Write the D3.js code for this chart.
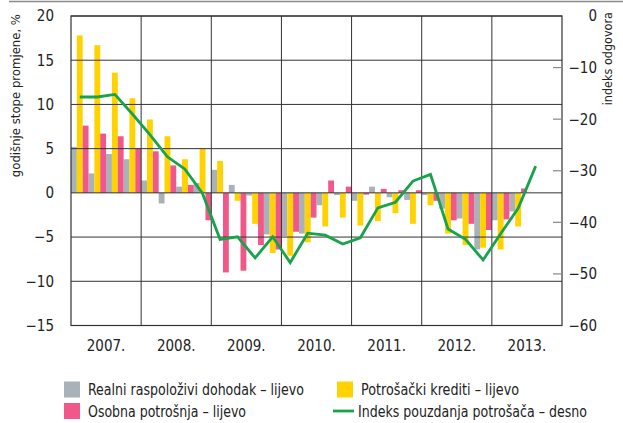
<!DOCTYPE html>
<html>
<head>
<meta charset="utf-8">
<script src="https://cdn.jsdelivr.net/npm/d3@7"></script>
<style>
  body { margin: 0; background: #fff; }
  svg text { font-family: "Liberation Sans Narrow", "DejaVu Sans Condensed", "Liberation Sans", sans-serif; fill: #222; }
</style>
</head>
<body>
<div id="chart"></div>
<script>
var years = ["2007.", "2008.", "2009.", "2010.", "2011.", "2012.", "2013."];
var quarters = years.flatMap(function(y) { return ["Q1", "Q2", "Q3", "Q4"].map(function(q) { return y + q; }); });

// realni raspolozivi dohodak, 2007Q1 - 2013Q2
var dohodak = [5.2, 2.2, 4.4, 3.8, 1.4, -1.2, 0.7, 1.1, 2.6, 0.9, -0.3, -4.7, -4.9,
  -4.6, -1.4, -0.25, -0.9, 0.7, -0.5, -0.8, -0.25, -1.8, -2.9, -6.4, -3.1, -2.1];
// potrosacki krediti
var krediti = [17.8, 16.7, 13.6, 10.7, 8.3, 6.4, 3.8, 5.0, 3.6, -0.9, -3.5, -6.8, -7.1,
  -5.6, -3.8, -2.8, -3.7, -3.2, -2.3, -3.5, -1.4, -4.6, -5.9, -6.2, -6.4, -3.8];
// osobna potrosnja
var potrosnja = [7.6, 6.7, 6.4, 5.0, 4.7, 3.1, 0.9, -3.1, -9.0, -8.8, -5.9, -6.4, -4.4,
  -2.8, 1.4, 0.7, -0.2, 0.45, 0.3, 0.3, -0.9, -3.1, -3.5, -4.2, -3.0, 0.5];
// indeks pouzdanja potrosaca (desna os), 2007Q1 - 2013Q3
var indeks = [-15.7, -15.7, -15.2, -19.0, -23.0, -27.3, -29.7, -34.4, -43.3, -42.8, -46.9, -42.8, -47.8,
  -42.1, -42.5, -44.2, -43.0, -37.2, -36.1, -32.0, -30.7, -41.3, -43.3, -47.3, -42.2, -37.3, -29.1];

var leftTicks = [20, 15, 10, 5, 0, -5, -10, -15];
var rightTicks = [0, -10, -20, -30, -40, -50, -60];

var width = 623, height = 423;
var m = { left: 71, right: 562, top: 16, bottom: 325.5 };

var svg = d3.select("#chart").append("svg")
    .attr("width", width)
    .attr("height", height);

var x = d3.scaleBand().domain(quarters).range([m.left, m.right]).padding(0);
var xYear = d3.scaleBand().domain(years).range([m.left, m.right]).padding(0);
var series = ["dohodak", "krediti", "potrosnja"];
var xs = d3.scaleBand().domain(series).range([0, x.bandwidth()]).padding(0);
var y = d3.scaleLinear().domain([-15, 20]).range([m.bottom, m.top]);
var y2 = d3.scaleLinear().domain([-60, 0]).range([m.bottom, m.top]);

var colors = { dohodak: "#a8b2b8", krediti: "#ffd200", potrosnja: "#f0588a" };
var seriesData = { dohodak: dohodak, krediti: krediti, potrosnja: potrosnja };

// top rule
svg.append("line")
    .attr("x1", 9).attr("x2", width).attr("y1", 1.5).attr("y2", 1.5)
    .attr("stroke", "#8a8a8a").attr("stroke-width", 1.5);

// bars
series.forEach(function(s) {
  svg.append("g")
    .selectAll("rect")
    .data(seriesData[s])
    .enter().append("rect")
    .attr("x", function(d, i) { return x(quarters[i]) + xs(s); })
    .attr("width", xs.bandwidth())
    .attr("y", function(d) { return y(Math.max(0, d)); })
    .attr("height", function(d) { return Math.abs(y(d) - y(0)); })
    .attr("fill", colors[s]);
});

// grid
svg.append("g")
  .selectAll("line")
  .data(leftTicks)
  .enter().append("line")
  .attr("x1", m.left).attr("x2", m.right)
  .attr("y1", function(d) { return y(d); })
  .attr("y2", function(d) { return y(d); })
  .attr("stroke", "#333").attr("stroke-width", 1);

svg.append("g")
  .selectAll("line")
  .data(years.slice(1))
  .enter().append("line")
  .attr("x1", function(d) { return xYear(d); })
  .attr("x2", function(d) { return xYear(d); })
  .attr("y1", m.top).attr("y2", m.bottom)
  .attr("stroke", "#333").attr("stroke-width", 1);

svg.append("rect")
    .attr("x", m.left).attr("y", m.top)
    .attr("width", m.right - m.left).attr("height", m.bottom - m.top)
    .attr("fill", "none").attr("stroke", "#333").attr("stroke-width", 1.2);

// right axis ticks (inside)
svg.append("g")
  .selectAll("line")
  .data(rightTicks.slice(1, -1))
  .enter().append("line")
  .attr("x1", m.right - 9).attr("x2", m.right)
  .attr("y1", function(d) { return y2(d); })
  .attr("y2", function(d) { return y2(d); })
  .attr("stroke", "#888").attr("stroke-width", 1.2);

// confidence index line
var line = d3.line()
    .x(function(d, i) { return x(quarters[i]) + x.bandwidth() / 2; })
    .y(function(d) { return y2(d); });

svg.append("path")
    .datum(indeks)
    .attr("d", line)
    .attr("fill", "none")
    .attr("stroke", "#17a34a")
    .attr("stroke-width", 2.8)
    .attr("stroke-linejoin", "miter");

function fmt(v) { return v < 0 ? "\u2212" + Math.abs(v) : String(v); }

// left labels
svg.append("g")
  .selectAll("text")
  .data(leftTicks)
  .enter().append("text")
  .attr("x", 54)
  .attr("y", function(d) { return y(d); })
  .attr("dy", "0.36em")
  .attr("text-anchor", "end")
  .style("font-size", "15px")
  .text(fmt);

// right labels
svg.append("g")
  .selectAll("text")
  .data(rightTicks)
  .enter().append("text")
  .attr("x", 597)
  .attr("y", function(d) { return y2(d); })
  .attr("dy", "0.36em")
  .attr("text-anchor", "end")
  .style("font-size", "15px")
  .text(fmt);

// year labels
svg.append("g")
  .selectAll("text")
  .data(years)
  .enter().append("text")
  .attr("x", function(d) { return xYear(d) + xYear.bandwidth() / 2; })
  .attr("y", 351)
  .attr("text-anchor", "middle")
  .style("font-size", "15px")
  .text(function(d) { return d; });

// axis titles
svg.append("text")
    .attr("transform", "translate(20,14) rotate(-90)")
    .attr("text-anchor", "end")
    .style("font-size", "13px")
    .text("godišnje stope promjene, %");

svg.append("text")
    .attr("transform", "translate(612,12) rotate(-90)")
    .attr("text-anchor", "end")
    .style("font-size", "12.5px")
    .text("indeks odgovora");

// legend
var legend = [
  { label: "Realni raspoloživi dohodak – lijevo", color: colors.dohodak, x: 64, y: 389.5, w: 216, type: "box" },
  { label: "Osobna potrošnja – lijevo", color: colors.potrosnja, x: 64, y: 411, w: 158, type: "box" },
  { label: "Potrošački krediti – lijevo", color: colors.krediti, x: 337, y: 389.5, w: 158, type: "box" },
  { label: "Indeks pouzdanja potrošača – desno", color: "#17a34a", x: 333, y: 411, w: 229, type: "line" }
];

var lg = svg.append("g").selectAll("g").data(legend).enter().append("g");
lg.filter(function(d) { return d.type === "box"; }).append("rect")
    .attr("x", function(d) { return d.x; })
    .attr("y", function(d) { return d.y - 8; })
    .attr("width", 16).attr("height", 16)
    .attr("fill", function(d) { return d.color; });
lg.filter(function(d) { return d.type === "line"; }).append("line")
    .attr("x1", function(d) { return d.x; })
    .attr("x2", function(d) { return d.x + 21; })
    .attr("y1", function(d) { return d.y; })
    .attr("y2", function(d) { return d.y; })
    .attr("stroke", function(d) { return d.color; })
    .attr("stroke-width", 2.8);
lg.append("text")
    .attr("x", function(d) { return d.type === "box" ? d.x + 24 : d.x + 25; })
    .attr("y", function(d) { return d.y; })
    .attr("dy", "0.36em")
    .attr("textLength", function(d) { return d.w; })
    .attr("lengthAdjust", "spacingAndGlyphs")
    .style("font-size", "15.5px")
    .text(function(d) { return d.label; });
</script>
</body>
</html>
